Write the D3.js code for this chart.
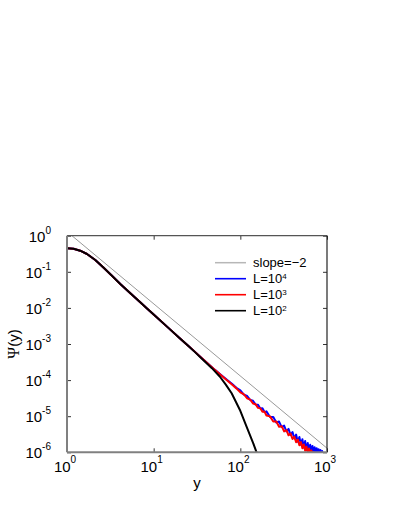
<!DOCTYPE html>
<html>
<head>
<meta charset="utf-8">
<script src="https://cdn.jsdelivr.net/npm/d3@7"></script>
<style>
  body { margin: 0; background: #fff; }
  text { font-family: "Liberation Sans", Arial, sans-serif; fill: #000; }
</style>
</head>
<body>
<svg id="chart" width="395" height="511"></svg>
<script>
// ticks
var xTicks = [1, 10, 100, 1000];
var yTicks = [1, 1e-1, 1e-2, 1e-3, 1e-4, 1e-5, 1e-6];

// common part of the three curves (they overlap here)
var yBase = [1, 1.19, 1.42, 1.7, 2.12, 2.65, 3.3, 4.12, 5.5, 6.95, 8.44, 10, 15, 20, 25];
var psiBase = [0.448, 0.437, 0.384, 0.311, 0.212, 0.129, 0.0776, 0.0459, 0.0244, 0.01455, 0.00948, 0.00653, 2.71e-3, 1.45e-3, 8.95e-4];

// L=10^4 tail
var yL4 = [30, 34.2, 51, 60, 70, 80, 90, 100, 110, 120, 130, 140, 150, 160, 170, 180, 190, 200,
  220, 240, 260, 280, 300, 320, 340, 360, 380, 400, 420, 440, 460, 480, 500, 520, 540, 560, 580, 600,
  620, 640, 660, 680, 700, 720, 740, 760, 780, 800, 820, 840, 860, 880, 900];
var psiL4 = [6.05e-4, 4.53e-4, 1.92e-4, 1.39e-4, 1.02e-4, 7.9e-5, 6.1e-5, 5.2e-5, 3.95e-5, 3.62e-5, 2.84e-5, 2.68e-5,
  2.10e-5, 2.07e-5, 1.63e-5, 1.66e-5, 1.30e-5, 1.36e-5,
  9.5e-6, 9.5e-6, 6.7e-6, 7.1e-6, 5.0e-6, 5.5e-6, 3.8e-6, 4.45e-6, 3.0e-6, 3.65e-6, 2.4e-6, 3.1e-6, 1.95e-6, 2.65e-6,
  1.62e-6, 2.3e-6, 1.35e-6, 2.05e-6, 1.15e-6, 1.8e-6, 0.98e-6, 1.62e-6, 0.84e-6, 1.5e-6, 0.74e-6, 1.38e-6, 0.63e-6,
  1.3e-6, 0.55e-6, 1.22e-6, 0.5e-6, 1.15e-6, 0.45e-6, 1.08e-6, 0.4e-6];

// L=10^3 tail
var yL3 = [30, 34.2, 51, 60, 70, 80, 90, 100, 110, 120, 130, 140, 150, 160, 170, 180, 190, 200,
  220, 240, 260, 280, 300, 320, 340, 360, 380, 400, 420, 440, 460, 480, 500, 520, 540, 560, 580, 600,
  620, 640, 660, 680, 700, 720];
var psiL3 = [6.05e-4, 4.53e-4, 1.92e-4, 1.36e-4, 9.9e-5, 7.5e-5, 5.9e-5, 4.6e-5, 4.02e-5, 3.13e-5, 2.87e-5, 2.25e-5,
  2.15e-5, 1.70e-5, 1.66e-5, 1.32e-5, 1.34e-5, 1.05e-5,
  9.9e-6, 7.1e-6, 7.1e-6, 5.1e-6, 5.3e-6, 3.8e-6, 4.15e-6, 2.95e-6, 3.3e-6, 2.34e-6, 2.7e-6, 1.9e-6, 2.25e-6, 1.56e-6,
  1.92e-6, 1.3e-6, 1.65e-6, 1.1e-6, 1.44e-6, 0.94e-6, 1.27e-6, 0.82e-6, 1.13e-6, 0.7e-6, 1.0e-6, 0.62e-6];

// L=10^2 tail (finite-size cutoff)
var yL2 = [30, 37.3, 47, 58.2, 68, 79.4, 98.9, 118, 141, 154, 162];
var psiL2 = [5.95e-4, 3.6e-4, 2.14e-4, 1.24e-4, 7.5e-5, 4.31e-5, 1.49e-5, 5.12e-6, 1.77e-6, 1.0e-6, 0.7e-6];

// reference power law
var ySlope = [1, 1000];
var psiSlope = [1.3, 1.3e-6];

var seriesNames = ["slope=\u22122", "L=10", "L=10", "L=10"];
var seriesExp = ["", "4", "3", "2"];
var seriesColors = ["#999", "#0000ff", "#ff0000", "#000"];

var svg = d3.select("#chart");
svg.append("rect").attr("width", 395).attr("height", 511).attr("fill", "#fff");

var mLeft = 67, mRight = 327, mTop = 235.7, mBottom = 452.3;
var x = d3.scaleLog().domain([1, 1000]).range([mLeft, mRight]);
var y = d3.scaleLog().domain([1e-6, 1]).range([mBottom, mTop]);

svg.append("clipPath").attr("id", "clip")
  .append("rect")
  .attr("x", mLeft).attr("y", mTop)
  .attr("width", mRight - mLeft).attr("height", mBottom - mTop);

function pairs(xs, ys) {
  return xs.map(function(d, i) { return [d, ys[i]]; });
}
var line = d3.line()
  .x(function(d) { return x(d[0]); })
  .y(function(d) { return y(d[1]); });

var plot = svg.append("g").attr("clip-path", "url(#clip)");

// slope -2 guide
plot.append("path")
  .datum(pairs(ySlope, psiSlope))
  .attr("d", line)
  .attr("fill", "none")
  .attr("stroke", "#999")
  .attr("stroke-width", 1);

var curves = [
  {xs: yBase.concat(yL4), ys: psiBase.concat(psiL4), color: "#0000ff"},
  {xs: yBase.concat(yL3), ys: psiBase.concat(psiL3), color: "#ff0000"},
  {xs: yBase.concat(yL2), ys: psiBase.concat(psiL2), color: "#000"}
];
curves.forEach(function(c) {
  plot.append("path")
    .datum(pairs(c.xs, c.ys))
    .attr("d", line)
    .attr("fill", "none")
    .attr("stroke", c.color)
    .attr("stroke-width", 2)
    .attr("stroke-linejoin", "round");
});

// mirrored inward ticks
function tickAxis(axis, tx, ty) {
  var g = svg.append("g").attr("transform", "translate(" + tx + "," + ty + ")").call(axis);
  g.select(".domain").remove();
  g.selectAll(".tick line").attr("stroke", "#333");
  g.selectAll(".tick text").remove();
}
tickAxis(d3.axisBottom(x).tickValues(xTicks).tickSizeInner(-4).tickSizeOuter(0), 0, mBottom);
tickAxis(d3.axisTop(x).tickValues(xTicks).tickSizeInner(-4).tickSizeOuter(0), 0, mTop);
tickAxis(d3.axisLeft(y).tickValues(yTicks).tickSizeInner(-4).tickSizeOuter(0), mLeft, 0);
tickAxis(d3.axisRight(y).tickValues(yTicks).tickSizeInner(-4).tickSizeOuter(0), mRight, 0);

// frame
svg.append("line").attr("x1", mLeft).attr("x2", mRight).attr("y1", mTop).attr("y2", mTop)
  .attr("stroke", "#555").attr("stroke-width", 1.2);
svg.append("line").attr("x1", mRight).attr("x2", mRight).attr("y1", mTop).attr("y2", mBottom)
  .attr("stroke", "#222").attr("stroke-width", 1.2);
svg.append("line").attr("x1", mLeft).attr("x2", mLeft).attr("y1", mTop).attr("y2", mBottom)
  .attr("stroke", "#808080").attr("stroke-width", 2);
svg.append("line").attr("x1", mLeft).attr("x2", mRight).attr("y1", mBottom).attr("y2", mBottom)
  .attr("stroke", "#808080").attr("stroke-width", 2);

// tick labels
svg.selectAll(".xlab").data(xTicks).join("text")
  .attr("class", "xlab")
  .attr("x", function(d) { return x(d) - 2; })
  .attr("y", 471.5)
  .attr("text-anchor", "middle")
  .attr("font-size", 15)
  .each(function(d) {
    var t = d3.select(this);
    t.append("tspan").text("10");
    t.append("tspan").attr("dy", -9).attr("font-size", 10).text(Math.round(Math.log10(d)));
  });

svg.selectAll(".ylab").data(yTicks).join("text")
  .attr("class", "ylab")
  .attr("x", 51)
  .attr("y", function(d) { return y(d) + 6; })
  .attr("text-anchor", "end")
  .attr("font-size", 15)
  .each(function(d) {
    var t = d3.select(this);
    t.append("tspan").text("10");
    t.append("tspan").attr("dy", -8).attr("font-size", 10).text(Math.round(Math.log10(d)));
  });

// axis titles
svg.append("text")
  .attr("x", (mLeft + mRight) / 2).attr("y", 488)
  .attr("text-anchor", "middle").attr("font-size", 15)
  .text("y");
var ylab = svg.append("text")
  .attr("transform", "translate(19," + (mTop + mBottom) / 2 + ") rotate(-90)")
  .attr("text-anchor", "middle").attr("font-size", 15);
ylab.append("tspan").attr("font-family", "Liberation Serif, serif").attr("font-size", 16).text("\u03A8");
ylab.append("tspan").text("(y)");

// legend
var legend = svg.append("g");
seriesNames.forEach(function(name, i) {
  var ly = 262.7 + i * 16;
  legend.append("line")
    .attr("x1", 215).attr("x2", 246).attr("y1", ly).attr("y2", ly)
    .attr("stroke", seriesColors[i])
    .attr("stroke-width", i === 0 ? 1.5 : 1.6)
    .attr("stroke-opacity", i === 0 ? 0.7 : 1);
  var t = legend.append("text")
    .attr("x", 253).attr("y", ly + 4.5)
    .attr("font-size", 13);
  t.append("tspan").text(name);
  if (seriesExp[i]) t.append("tspan").attr("dy", -4).attr("font-size", 8).text(seriesExp[i]);
});
</script>
</body>
</html>
